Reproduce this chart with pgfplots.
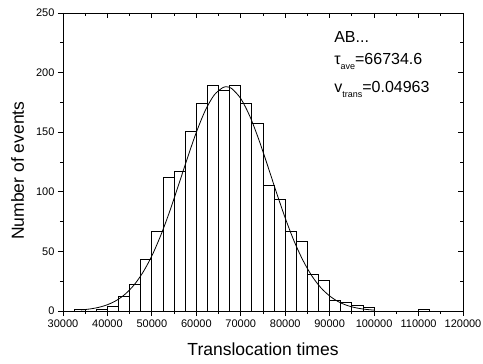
\documentclass[border=0pt]{standalone}
\usepackage{fontspec}
\setmainfont{Liberation Sans}
\usepackage{pgfplots}
\pgfplotsset{compat=1.18}
\begin{document}
\begin{tikzpicture}
\pgfplotsset{
  common/.style={
    width=400pt, height=298pt, scale only axis,
    xmin=30000, xmax=120000, ymin=0, ymax=250,
    xtick={30000,40000,...,120000}, ytick={0,50,...,250},
    minor x tick num=1, minor y tick num=1,
    major tick length=5pt, minor tick length=3pt,
    axis line style={line width=0.8pt},
    every tick/.style={black, line width=0.8pt},
    scaled x ticks=false, scaled y ticks=false,
    /pgf/number format/assume math mode=true,
    tick label style={font=\fontsize{11}{13}\selectfont},
    xticklabel style={/pgf/number format/.cd, fixed, precision=0, 1000 sep={}},
  }
}
\begin{axis}[common, name=ax, tick align=outside, xtick pos=left, ytick pos=left,
  xlabel={Translocation times}, ylabel={Number of events},
  xlabel style={font=\fontsize{17.5}{20}\selectfont, at={(axis description cs:0.5,-0.1477)}, anchor=base},
  ylabel style={font=\fontsize{17.5}{20}\selectfont, at={(axis description cs:-0.0975,0.471)}, anchor=base},
]
\addplot[ybar interval, draw=black, fill=none, line width=0.8pt] coordinates {
(32500,1) (35000,0) (37500,1) (40000,4) (42500,12) (45000,22) (47500,43)
(50000,67) (52500,112) (55000,117) (57500,151) (60000,174) (62500,189)
(65000,185) (67500,189) (70000,174) (72500,157) (75000,105) (77500,94)
(80000,67) (82500,58) (85000,31) (87500,26) (90000,9) (92500,7)
(95000,5) (97500,3) (100000,0)
};
\addplot[ybar interval, draw=black, fill=none, line width=0.8pt] coordinates {
(110000,1) (112500,1)
};
\addplot[black, line width=0.8pt, smooth, no marks] coordinates {
(34000,0.89) (36000,1.67) (38000,3.03) (40000,5.27) (42000,8.82) (44000,14.2)
(46000,21.9) (48000,32.5) (50000,46.3) (52000,63.5) (54000,83.5) (56000,105.7)
(58000,128.4) (60000,149.9) (62000,168.1) (64000,181.1) (66000,187.5) (67000,188.0)
(68000,186.5) (70000,178.2) (72000,163.7) (74000,144.4) (76000,122.4) (78000,99.7)
(80000,78.0) (82000,58.6) (84000,42.4) (86000,29.4) (88000,19.6) (90000,12.6)
(92000,7.7) (94000,4.57) (96000,2.6) (98000,1.42) (100000,0.74)
};
\node[anchor=base west, inner sep=0pt, font=\fontsize{16}{19}\selectfont] at (axis cs:91000,225.1) {AB...};
\node[anchor=base west, inner sep=0pt, font=\fontsize{16}{19}\selectfont] at (axis cs:91000,206.4) {τ\raisebox{-5pt}{\fontsize{9}{10}\selectfont ave}=66734.6};
\node[anchor=base west, inner sep=0pt, font=\fontsize{16}{19}\selectfont] at (axis cs:91000,183.1) {v\raisebox{-5pt}{\fontsize{9}{10}\selectfont trans}=0.04963};
\end{axis}
\begin{axis}[common, tick align=inside, xtick pos=right, ytick pos=right,
  xticklabels={}, yticklabels={}]
\end{axis}
\pgfresetboundingbox
\path[use as bounding box] ([xshift=-63pt,yshift=-52pt]ax.south west) rectangle ([xshift=20pt,yshift=13pt]ax.north east);
\end{tikzpicture}
\end{document}
